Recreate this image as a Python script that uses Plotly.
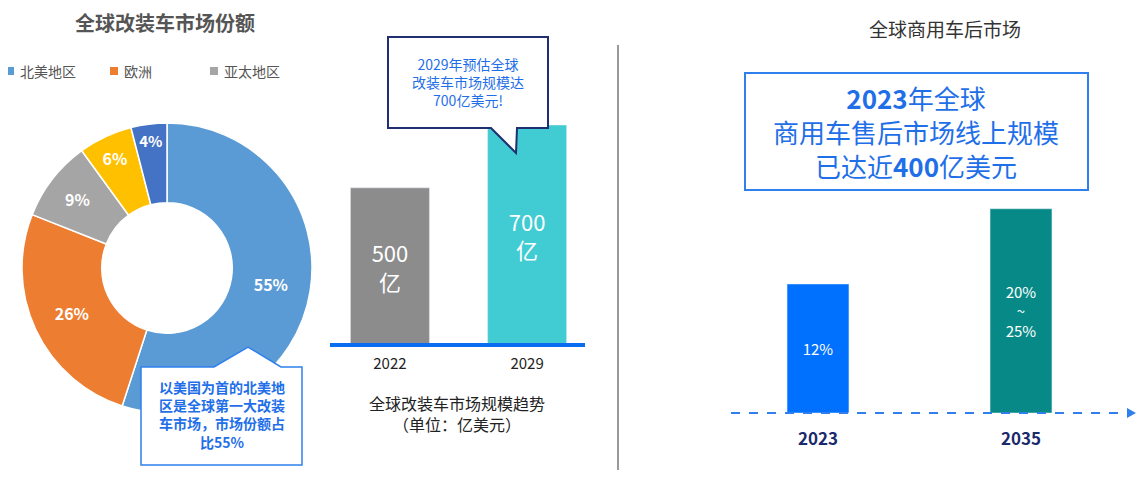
import plotly.graph_objects as go

W, H = 1137, 472
OFF = 8
FONT = "Noto Sans CJK SC"

# pie data
regions = ["北美地区", "欧洲", "亚太地区", "其他1", "其他2"]
shares = [55, 26, 9, 6, 4]
pie_colors = ["#5B9BD5", "#ED7D31", "#A5A5A5", "#FFC000", "#4472C4"]
legend_names = ["北美地区", "欧洲", "亚太地区"]

# retrofit market size
years_a = ["2022", "2029"]
size_a = [500, 700]
labels_a = ["500<br>亿", "700<br>亿"]

# commercial vehicle aftermarket online share
years_b = ["2023", "2035"]
share_b = [12, 19]
labels_b = ["12%", "20%<br>~<br>25%"]


def px(x):
    return (x - OFF) / W


def py(y):
    return 1 - (y - OFF) / H


fig = go.Figure()

fig.add_trace(go.Pie(
    labels=regions, values=shares, hole=0.45, sort=False, direction="clockwise",
    rotation=0, marker=dict(colors=pie_colors, line=dict(color="white", width=1.5)),
    texttemplate="%{value}%", textposition="inside", insidetextorientation="horizontal",
    textfont=dict(family=FONT, size=16, color="white", weight="bold"),
    domain=dict(x=[px(22), px(312)], y=[py(413), py(123)]),
    showlegend=False, hoverinfo="skip",
))

fig.add_trace(go.Bar(
    x=years_a, y=size_a, text=labels_a, textposition="inside", insidetextanchor="middle",
    textfont=dict(family=FONT, size=22, color="white"), width=0.576,
    marker=dict(color=["#8C8C8C", "#41CBD3"]), xaxis="x", yaxis="y",
    showlegend=False, hoverinfo="skip",
))

fig.add_trace(go.Bar(
    x=years_b, y=share_b, text=labels_b, textposition="inside", insidetextanchor="middle",
    textfont=dict(family=FONT, size=15, color="white"), width=0.305,
    marker=dict(color=["#0070FF", "#078A87"]), xaxis="x2", yaxis="y2",
    showlegend=False, hoverinfo="skip",
))

fig.update_layout(
    width=W, height=H, margin=dict(l=0, r=0, t=0, b=0),
    paper_bgcolor="white", plot_bgcolor="rgba(0,0,0,0)",
    font=dict(family=FONT),
    xaxis=dict(domain=[px(330), px(585)], range=[-0.437, 1.422], showgrid=False,
               zeroline=False, showline=False, ticks="", ticklabelstandoff=8,
               tickfont=dict(size=15, color="#222")),
    yaxis=dict(domain=[py(345), py(125)], range=[0, 700], visible=False),
    xaxis2=dict(domain=[px(730), px(1130)], range=[-0.4335, 1.537], showgrid=False,
                anchor="y2", zeroline=False, showline=False, ticks="", ticklabelstandoff=14,
                tickfont=dict(size=17, color="#1A2A6C", weight="bold")),
    yaxis2=dict(domain=[py(413), py(198)], range=[0, 20], visible=False, anchor="x2"),
)

shapes = [
    # baseline of left bar chart
    dict(type="line", xref="paper", yref="paper", x0=px(330), x1=px(585), y0=py(345), y1=py(345),
         line=dict(color="#0A6CF0", width=4)),
    # divider
    dict(type="line", xref="paper", yref="paper", x0=px(618), x1=px(618), y0=py(45), y1=py(470),
         line=dict(color="#777", width=1.5)),
    # dashed axis with arrow
    dict(type="line", xref="paper", yref="paper", x0=px(731), x1=px(1128), y0=py(413), y1=py(413),
         line=dict(color="#2F80ED", width=2, dash="dash")),
    dict(type="path", xref="paper", yref="paper",
         path=f"M {px(1127)},{py(408)} L {px(1136)},{py(413)} L {px(1127)},{py(418)} Z",
         fillcolor="#2F80ED", line=dict(width=0)),
    # top callout with pointer
    dict(type="path", xref="paper", yref="paper",
         path=(f"M {px(388)},{py(37)} L {px(548)},{py(37)} L {px(548)},{py(128)} "
               f"L {px(517)},{py(128)} L {px(516)},{py(153)} L {px(491)},{py(128)} "
               f"L {px(388)},{py(128)} Z"),
         fillcolor="white", line=dict(color="#1F2F6F", width=2)),
    # left callout
    dict(type="path", xref="paper", yref="paper",
         path=(f"M {px(141)},{py(367)} L {px(214)},{py(367)} L {px(248)},{py(347)} "
               f"L {px(281)},{py(367)} L {px(302)},{py(367)} L {px(302)},{py(465)} "
               f"L {px(141)},{py(465)} Z"),
         fillcolor="white", line=dict(color="#2F80ED", width=1.5)),
    # right highlight box
    dict(type="rect", xref="paper", yref="paper", x0=px(745), x1=px(1088), y0=py(73), y1=py(190),
         line=dict(color="#2F80ED", width=2), fillcolor="white"),
]

legend_x = [6, 110, 210]
for i, name in enumerate(legend_names):
    shapes.append(dict(type="rect", xref="paper", yref="paper",
                       x0=px(legend_x[i]), x1=px(legend_x[i] + 8), y0=py(75), y1=py(67),
                       fillcolor=pie_colors[i], line=dict(width=0)))
fig.update_layout(shapes=shapes)


def note(x, y, text, size, color, bold=False, anchor="center"):
    fig.add_annotation(x=px(x), y=py(y), xref="paper", yref="paper", text=text, showarrow=False,
                       xanchor=anchor, yanchor="middle",
                       font=dict(family=FONT, size=size, color=color,
                                 weight="bold" if bold else "normal"))


note(165, 22, "全球改装车市场份额", 20, "#555", bold=True)
for i, name in enumerate(legend_names):
    note(legend_x[i] + 12, 71, name, 14, "#555", anchor="left")
note(468, 82, "2029年预估全球<br>改装车市场规模达<br>700亿美元!", 14, "#1F6FE8")
note(222, 414, "以美国为首的北美地<br>区是全球第一大改装<br>车市场，市场份额占<br>比55%", 14, "#1F6FE8", bold=True)
note(457, 413, "全球改装车市场规模趋势<br>（单位：亿美元）", 16, "#222")
note(945, 28, "全球商用车后市场", 19, "#333")
note(916, 131, "<b>2023</b>年全球<br>商用车售后市场线上规模<br>已达近<b>400</b>亿美元", 26, "#1F6FE8")

fig.write_html("out.html")
